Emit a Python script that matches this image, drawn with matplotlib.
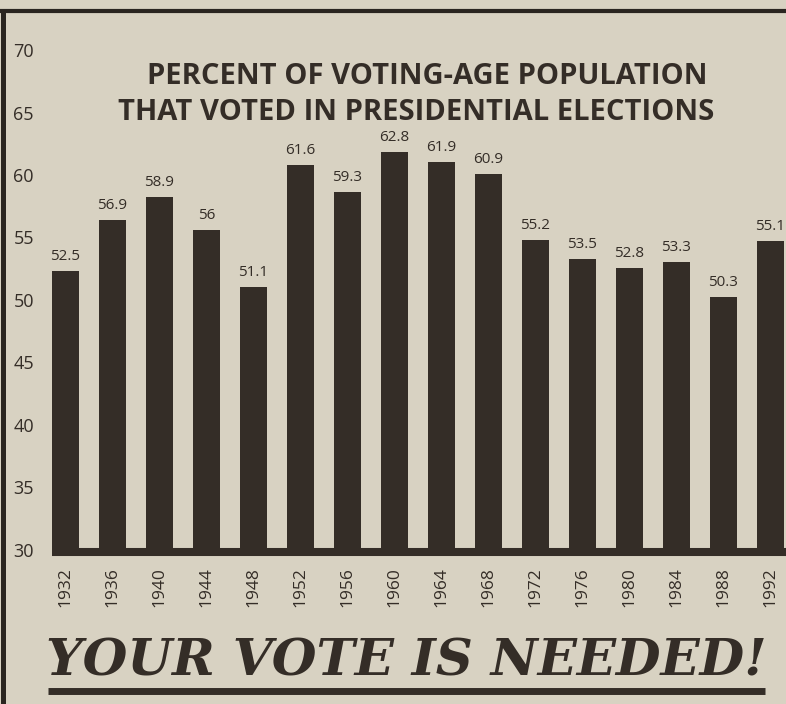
import matplotlib
matplotlib.use("Agg")
import matplotlib.pyplot as plt
from matplotlib.lines import Line2D

# Turnout data
years = ["1932", "1936", "1940", "1944", "1948", "1952", "1956", "1960",
         "1964", "1968", "1972", "1976", "1980", "1984", "1988", "1992"]
turnout = [52.5, 56.9, 58.9, 56, 51.1, 61.6, 59.3, 62.8,
           61.9, 60.9, 55.2, 53.5, 52.8, 53.3, 50.3, 55.1]
axis_ticks = [30, 35, 40, 45, 50, 55, 60, 65, 70]

paper = "#d8d2c2"
ink = "#342d27"
W, H = 786, 704

fig = plt.figure(figsize=(W / 100, H / 100), dpi=100, facecolor=paper)

# axes placed in pixel terms
left, right, bottom, top = 52, 786, 552, 40
ax = fig.add_axes([left / W, (H - bottom) / H, (right - left) / W, (bottom - top) / H])
ax.set_facecolor("none")

x = list(range(len(years)))
bar_w = 0.574
ax.bar(x, turnout, width=bar_w, color=ink, zorder=2)

# bar scale in the clipping is ~11.6 px per point, a bit off the printed axis
ax.set_ylim((880 - bottom) / 11.6, (880 - top) / 11.6)
ax.set_xlim(-bar_w / 2, -bar_w / 2 + (right - left) / 47)

for xi, v in zip(x, turnout):
    ax.annotate(f"{v:g}", (xi, v), xytext=(0, 5), textcoords="offset points",
                ha="center", va="bottom", fontsize=11, family="Open Sans",
                color=ink)

ax.set_xticks(x)
ax.set_xticklabels(years, rotation=90, fontsize=12.5, family="Open Sans", color=ink)
ax.tick_params(axis="x", length=0, pad=11)
ax.set_yticks([])
for side in ["left", "right", "top"]:
    ax.spines[side].set_visible(False)
ax.spines["bottom"].set_linewidth(5.8)
ax.spines["bottom"].set_color(ink)
ax.spines["bottom"].set_capstyle("butt")

# printed value axis on the left
ax2 = ax.twinx()
ax2.set_ylim(30 - 2 / 12.5, 30 + (bottom - top - 2) / 12.5)
ax2.set_yticks(axis_ticks)
ax2.set_yticklabels([str(t) for t in axis_ticks], fontsize=13, family="Open Sans", color=ink)
ax2.yaxis.set_ticks_position("left")
ax2.tick_params(axis="y", length=0, pad=13)
for side in ["left", "right", "top", "bottom"]:
    ax2.spines[side].set_visible(False)

# title
fig.text(427 / W, (H - 76) / H, "PERCENT OF VOTING-AGE POPULATION",
         ha="center", va="center", fontsize=21, weight="bold",
         family="Open Sans", color=ink)
fig.text(416 / W, (H - 113) / H, "THAT VOTED IN PRESIDENTIAL ELECTIONS",
         ha="center", va="center", fontsize=21, weight="bold",
         family="Open Sans", color=ink)

# slogan + underline
fig.text(406 / W, (H - 662) / H, "YOUR VOTE IS NEEDED!", ha="center", va="center",
         fontsize=37, weight="bold", style="italic", family="DejaVu Serif", color=ink)
fig.add_artist(Line2D([48 / W, 765 / W], [(H - 691) / H] * 2, lw=5,
                      color=ink, solid_capstyle="butt"))

# box frame of the clipping
fig.add_artist(Line2D([0, 1], [(H - 10.5) / H] * 2, lw=3, color="#2a2520",
                      solid_capstyle="butt"))
fig.add_artist(Line2D([2.5 / W] * 2, [0, (H - 9) / H], lw=3.6, color="#2a2520",
                      solid_capstyle="butt"))

fig.savefig("out.png", dpi=100, facecolor=paper)
